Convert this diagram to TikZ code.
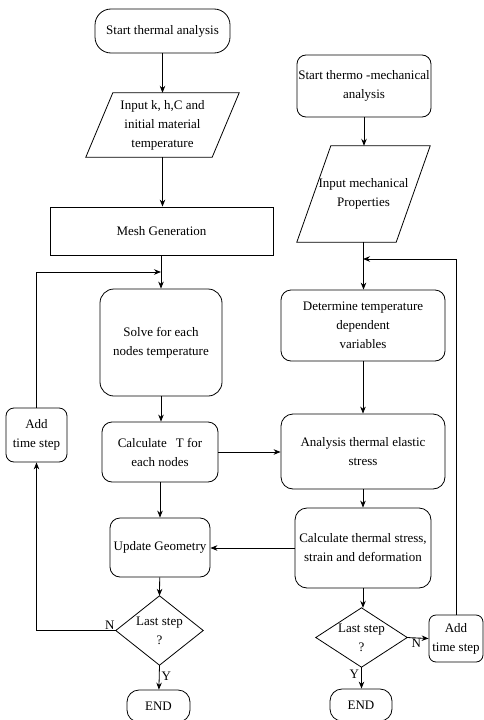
\documentclass[tikz,border=0pt]{standalone}
\usepackage{fontspec}
\setmainfont{Liberation Serif}
\usetikzlibrary{arrows.meta,calc}
\begin{document}
\begin{tikzpicture}[x=1pt,y=-1pt,
  every node/.style={font=\fontsize{13}{19}\selectfont, align=center, inner sep=0pt},
  box/.style={draw, line width=0.8pt, minimum width=#1},
  rr/.style={rounded corners=#1},
  slantbox/.style={draw=none},
  arr/.style={line width=0.8pt, -{Stealth[length=7pt,width=5.5pt]}},
  ln/.style={line width=0.8pt},
  lbl/.style={font=\fontsize{13}{15}\selectfont}
]
\useasboundingbox (0,0) rectangle (484,720);

% left column
\node[box=135pt, minimum height=44pt, rr=16pt] (s1) at (162.5,31) {Start thermal analysis};
\node[slantbox, minimum width=126pt, minimum height=64pt] (in1) at (162.5,125) {Input k, h,C and\\initial material\\temperature};
\draw[ln] ($(in1.north west)+(13.5,0)$) -- ($(in1.north east)+(13.5,0)$) -- ($(in1.south east)+(-13.5,0)$) -- ($(in1.south west)+(-13.5,0)$) -- cycle;
\node[box=223pt, minimum height=48pt] (mesh) at (161.5,231) {Mesh Generation};
\node[box=122pt, minimum height=107pt, rr=14pt] (solve) at (161,342.5) {Solve for each\\nodes temperature};
\node[box=61pt, minimum height=54pt, rr=8pt] (add1) at (36.5,435) {Add\\time step};
\node[box=116pt, minimum height=60pt, rr=10pt] (calc) at (160,452) {Calculate\hspace{9pt}T for\\each nodes};
\node[box=100pt, minimum height=59pt, rr=10pt] (upd) at (160,547.5) {Update Geometry};
\node[slantbox, minimum width=87pt, minimum height=69pt] (d1) at (159.5,630.5) {Last step\\?};
\draw[ln] (d1.north) -- (d1.east) -- (d1.south) -- (d1.west) -- cycle;
\node[box=63pt, minimum height=32pt, rr=12pt] (end1) at (158.5,706) {END};

% right column
\node[box=134pt, minimum height=62pt, rr=9pt] (s2) at (364,86) {Start thermo -mechanical\\analysis};
\node[slantbox, minimum width=99pt, minimum height=96pt] (in2) at (363.5,194) {Input mechanical\\Properties};
\draw[ln] ($(in2.north west)+(17,0)$) -- ($(in2.north east)+(17,0)$) -- ($(in2.south east)+(-17,0)$) -- ($(in2.south west)+(-17,0)$) -- cycle;
\node[box=164pt, minimum height=71pt, rr=10pt] (det) at (363,325.5) {Determine temperature\\dependent\\variables};
\node[box=164pt, minimum height=75pt, rr=12pt] (ana) at (363,451.5) {Analysis thermal elastic\\stress};
\node[box=136pt, minimum height=80pt, rr=12pt] (cts) at (363,548) {Calculate thermal stress,\\strain and deformation};
\node[slantbox, minimum width=91pt, minimum height=59pt] (d2) at (361.5,637.5) {Last step\\?};
\draw[ln] (d2.north) -- (d2.east) -- (d2.south) -- (d2.west) -- cycle;
\node[box=54pt, minimum height=47pt, rr=7pt] (add2) at (456,638.5) {Add\\time step};
\node[box=62pt, minimum height=32pt, rr=12pt] (end2) at (361,705) {END};

% junction coordinates
\coordinate (j1) at (161,272);
\coordinate (j2) at (363,259);

% left connectors
\draw[arr] (s1) -- (in1.north);
\draw[arr] (in1.south) -- (in1.south |- mesh.north);
\draw[arr] (mesh.south -| solve.north) -- (solve.north);
\draw[arr] (solve) -- (solve.south |- calc.north);
\draw[arr] (calc) -- (upd);
\draw[arr] (upd) -- (d1.north);
\draw[arr] (d1.south) -- (end1) node[lbl, pos=0.45, anchor=west, xshift=2pt] {Y};
\draw[arr] (d1.west) -| (add1.south) node[lbl, pos=0, anchor=south east, xshift=-1pt, yshift=1pt] {N};
\draw[arr] (add1.north) |- (j1);
\draw[arr] (calc.east) -- (calc.east -| ana.west);
\draw[arr] (cts.west) -- (cts.west -| upd.east);

% right connectors
\draw[arr] (s2) -- (s2.south |- in2.north);
\draw[arr] (in2.south) -- (in2.south |- det.north);
\draw[arr] (det) -- (ana);
\draw[arr] (ana) -- (cts);
\draw[arr] (cts) -- (cts.south |- d2.north);
\draw[arr] (d2.south) -- (d2.south |- end2.north) node[lbl, pos=0.35, anchor=east, xshift=-2pt] {Y};
\draw[arr] (d2.east) -- (add2.west) node[lbl, pos=0, anchor=north west, xshift=4pt, yshift=-1pt] {N};
\draw[arr] (add2.north) |- (j2);
\end{tikzpicture}
\end{document}
